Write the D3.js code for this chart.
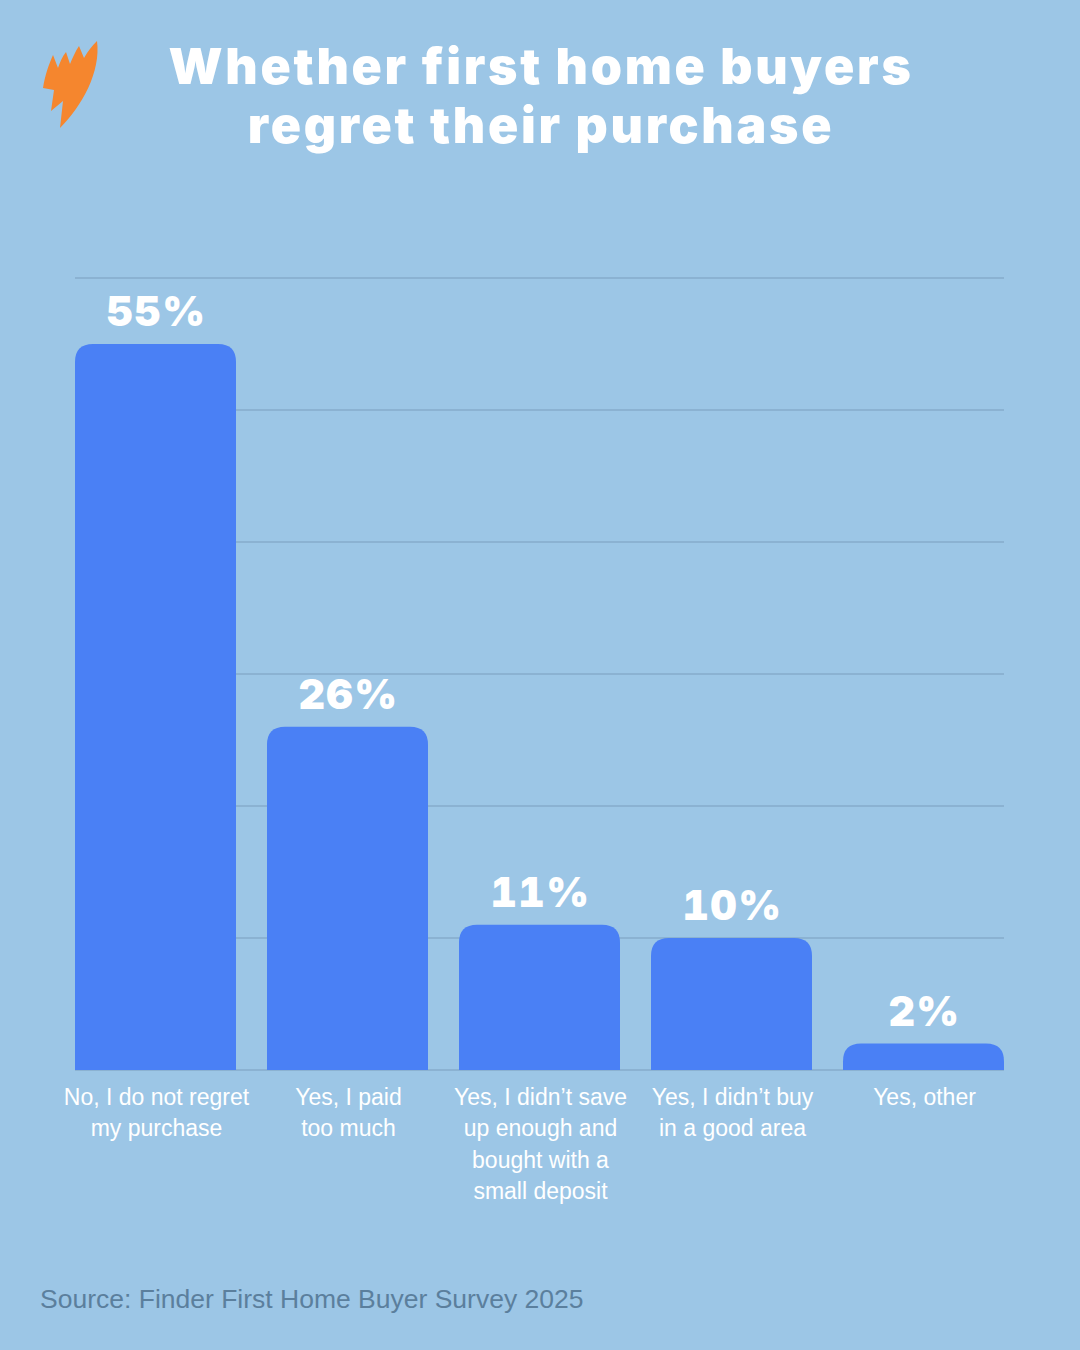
<!DOCTYPE html>
<html><head><meta charset="utf-8">
<script src="https://cdn.jsdelivr.net/npm/d3@7"></script>
<style>
html,body{margin:0;padding:0;background:#9cc6e6;}
svg{display:block;}
</style></head><body>
<svg id="chart" width="1080" height="1350"></svg>
<script>
const categories = [
  ["No, I do not regret", "my purchase"],
  ["Yes, I paid", "too much"],
  ["Yes, I didn’t save", "up enough and", "bought with a", "small deposit"],
  ["Yes, I didn’t buy", "in a good area"],
  ["Yes, other"]
];
const values = [55, 26, 11, 10, 2];
const valueLabels = ["55%", "26%", "11%", "10%", "2%"];
const gridTicks = [0, 10, 20, 30, 40, 50, 60];
const titleLines = ["Whether first home buyers", "regret their purchase"];
const sourceText = "Source: Finder First Home Buyer Survey 2025";

const svg = d3.select("#chart");
svg.append("rect").attr("width",1080).attr("height",1350).attr("fill","#9cc6e6");

// logo
svg.append("path")
  .attr("d","M97,41 C101,72 82,106 60,128 L63,101 L51,111 L54,90 L43,88 C45,75 49,64 53,55 L58,68 C60,62 62,57 66,52 L70,64 C73,57 75,52 79,46 L84,58 C88,51 92,46 97,41 Z")
  .attr("fill","#f5862e");

// title
svg.append("g").selectAll("text").data(titleLines).join("text")
  .attr("x",541).attr("y",(d,i)=>84+i*59)
  .attr("text-anchor","middle")
  .attr("font-family","Inter, 'DejaVu Sans', sans-serif")
  .attr("font-weight",900)
  .attr("font-size",50)
  .attr("letter-spacing",2.7)
  .attr("fill","#ffffff")
  .text(d=>d);

const x = d3.scaleBand().domain(d3.range(values.length)).range([75,1004]).paddingInner(31/192).paddingOuter(0);
const y = d3.scaleLinear().domain([0,60]).range([1070,278]);

// gridlines
svg.append("g").selectAll("line").data(gridTicks).join("line")
  .attr("x1",75).attr("x2",1004)
  .attr("y1",d=>y(d)).attr("y2",d=>y(d))
  .attr("stroke","#7b9dbd").attr("stroke-width",1.2);

// bars with rounded top
const r = 18;
svg.append("g").selectAll("path").data(values).join("path")
  .attr("fill","#4a80f5")
  .attr("d",(d,i)=>{
    const x0=x(i), w=x.bandwidth(), y0=y(d), y1=y(0);
    const rr=Math.min(r,(y1-y0));
    return `M${x0},${y1} L${x0},${y0+rr} Q${x0},${y0} ${x0+rr},${y0} L${x0+w-rr},${y0} Q${x0+w},${y0} ${x0+w},${y0+rr} L${x0+w},${y1} Z`;
  });

// value labels
svg.append("g").selectAll("text").data(values).join("text")
  .attr("x",(d,i)=>x(i)+x.bandwidth()/2+1)
  .attr("y",d=>y(d)-18)
  .attr("text-anchor","middle")
  .attr("font-family","Inter, 'DejaVu Sans', sans-serif")
  .attr("font-weight",900)
  .attr("font-size",41)
  .attr("letter-spacing",1.5)
  .style("font-variant-numeric","tabular-nums")
  .attr("fill","#ffffff")
  .text((d,i)=>valueLabels[i]);

// category labels
const cg = svg.append("g").selectAll("text").data(categories).join("text")
  .attr("text-anchor","middle")
  .attr("font-family","'Liberation Sans', Arial, sans-serif")
  .attr("font-size",23)
  .attr("fill","#ffffff");
cg.each(function(lines,i){
  d3.select(this).selectAll("tspan").data(lines).join("tspan")
    .attr("x",x(i)+x.bandwidth()/2+1)
    .attr("y",(d,j)=>1105+j*31.3)
    .text(d=>d);
});

// source
svg.append("text").attr("x",40).attr("y",1308)
  .attr("font-family","'Liberation Sans', Arial, sans-serif")
  .attr("font-size",26.5).attr("fill","#5b7f9d")
  .text(sourceText);
</script>
</body></html>
